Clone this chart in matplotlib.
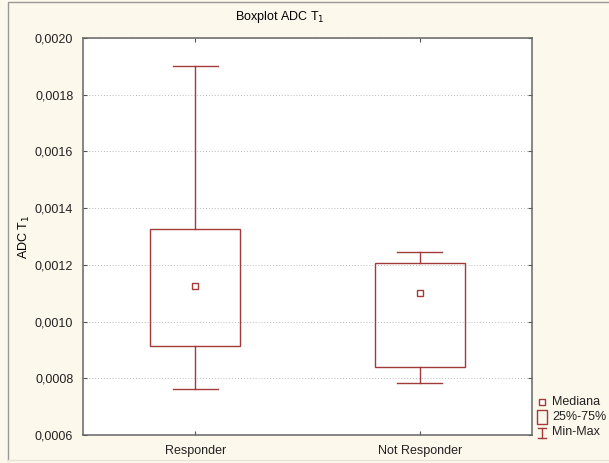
import matplotlib
matplotlib.use("Agg")
import matplotlib.pyplot as plt
import matplotlib.ticker as ticker
from matplotlib.patches import Rectangle

# data
categories = ["Responder", "Not Responder"]
mins = [0.000762, 0.000784]
q1 = [0.000914, 0.000840]
medians = [0.001126, 0.001101]
q3 = [0.001327, 0.001207]
maxs = [0.001900, 0.001245]

legend_labels = ["Mediana", "25%-75%", "Min-Max"]

RED = "#a33a3a"
BG = "#fdf8ec"

plt.rcParams["font.family"] = ["Liberation Sans", "DejaVu Sans"]
plt.rcParams["font.size"] = 9

fig = plt.figure(figsize=(6.09, 4.63), dpi=100, facecolor=BG)
ax = fig.add_axes([83 / 609, 1 - 435 / 463, 449 / 609, 397 / 463])
ax.set_facecolor("white")

box_w = 0.4
cap_w = 0.2
for i, name in enumerate(categories):
    x = i + 1
    # whiskers
    ax.plot([x, x], [q3[i], maxs[i]], color=RED, lw=1)
    ax.plot([x, x], [mins[i], q1[i]], color=RED, lw=1)
    ax.plot([x - cap_w / 2, x + cap_w / 2], [maxs[i], maxs[i]], color=RED, lw=1)
    ax.plot([x - cap_w / 2, x + cap_w / 2], [mins[i], mins[i]], color=RED, lw=1)
    # box
    ax.add_patch(Rectangle((x - box_w / 2, q1[i]), box_w, q3[i] - q1[i],
                           fill=False, edgecolor=RED, lw=1, zorder=3))
    # median
    ax.plot([x], [medians[i]], marker="s", ms=4, mfc="white", mec=RED, mew=1, zorder=4)

ax.set_xlim(0.5, 2.5)
ax.set_ylim(0.0006, 0.0020)
ax.set_xticks([1, 2])
ax.set_xticklabels(categories)
ax.yaxis.set_major_locator(ticker.MultipleLocator(0.0002))
ax.yaxis.set_major_formatter(ticker.FuncFormatter(lambda v, p: f"{v:.4f}".replace(".", ",")))
ax.tick_params(axis="both", direction="in", length=3, width=0.8, color="#555555",
               labelcolor="#222222")
ax.tick_params(axis="y", right=True, pad=7)
ax.tick_params(axis="x", top=True, pad=7)
ax.grid(axis="y", color="#bbbbbb", linestyle=(0, (1, 2)), lw=0.7)
ax.set_axisbelow(True)
for s in ax.spines.values():
    s.set_color("#666666")
    s.set_linewidth(1.1)

ax.set_ylabel("ADC T$_1$")
ax.yaxis.set_label_coords(-0.114, 0.5)
fig.text(280 / 609, 1 - 17 / 463, "Boxplot ADC T$_1$", ha="center", va="center")

# legend drawn by hand in figure coords
lx = 542 / 609
fig.lines.append(plt.Line2D([lx], [1 - 402 / 463], marker="s", ms=4, mfc="white",
                            mec=RED, mew=1, transform=fig.transFigure))
fig.patches.append(Rectangle((537 / 609, 1 - 424 / 463), 10 / 609, 14 / 463, fill=False,
                             edgecolor=RED, lw=1, transform=fig.transFigure))
ty = 1 - 433 / 463
fig.lines.append(plt.Line2D([lx, lx], [ty - 5 / 463, ty + 5 / 463], color=RED, lw=1,
                            transform=fig.transFigure))
fig.lines.append(plt.Line2D([lx - 4 / 609, lx + 4 / 609], [ty + 5 / 463, ty + 5 / 463],
                            color=RED, lw=1, transform=fig.transFigure))
fig.lines.append(plt.Line2D([lx - 4 / 609, lx + 4 / 609], [ty - 5 / 463, ty - 5 / 463],
                            color=RED, lw=1, transform=fig.transFigure))
for k, lab in enumerate(legend_labels):
    fig.text(552 / 609, 1 - (402 + 15 * k) / 463, lab, ha="left", va="center", color="#222222")

# outer frame
fig.lines.append(plt.Line2D([8 / 609, 8 / 609, 1], [1 - 460 / 463, 1 - 2 / 463, 1 - 2 / 463],
                            color="#999999", lw=1, transform=fig.transFigure))
fig.lines.append(plt.Line2D([8 / 609, 1], [1 - 460 / 463, 1 - 460 / 463],
                            color="#e8e4d8", lw=1, transform=fig.transFigure))

fig.savefig("out.png", dpi=100, facecolor=BG)
